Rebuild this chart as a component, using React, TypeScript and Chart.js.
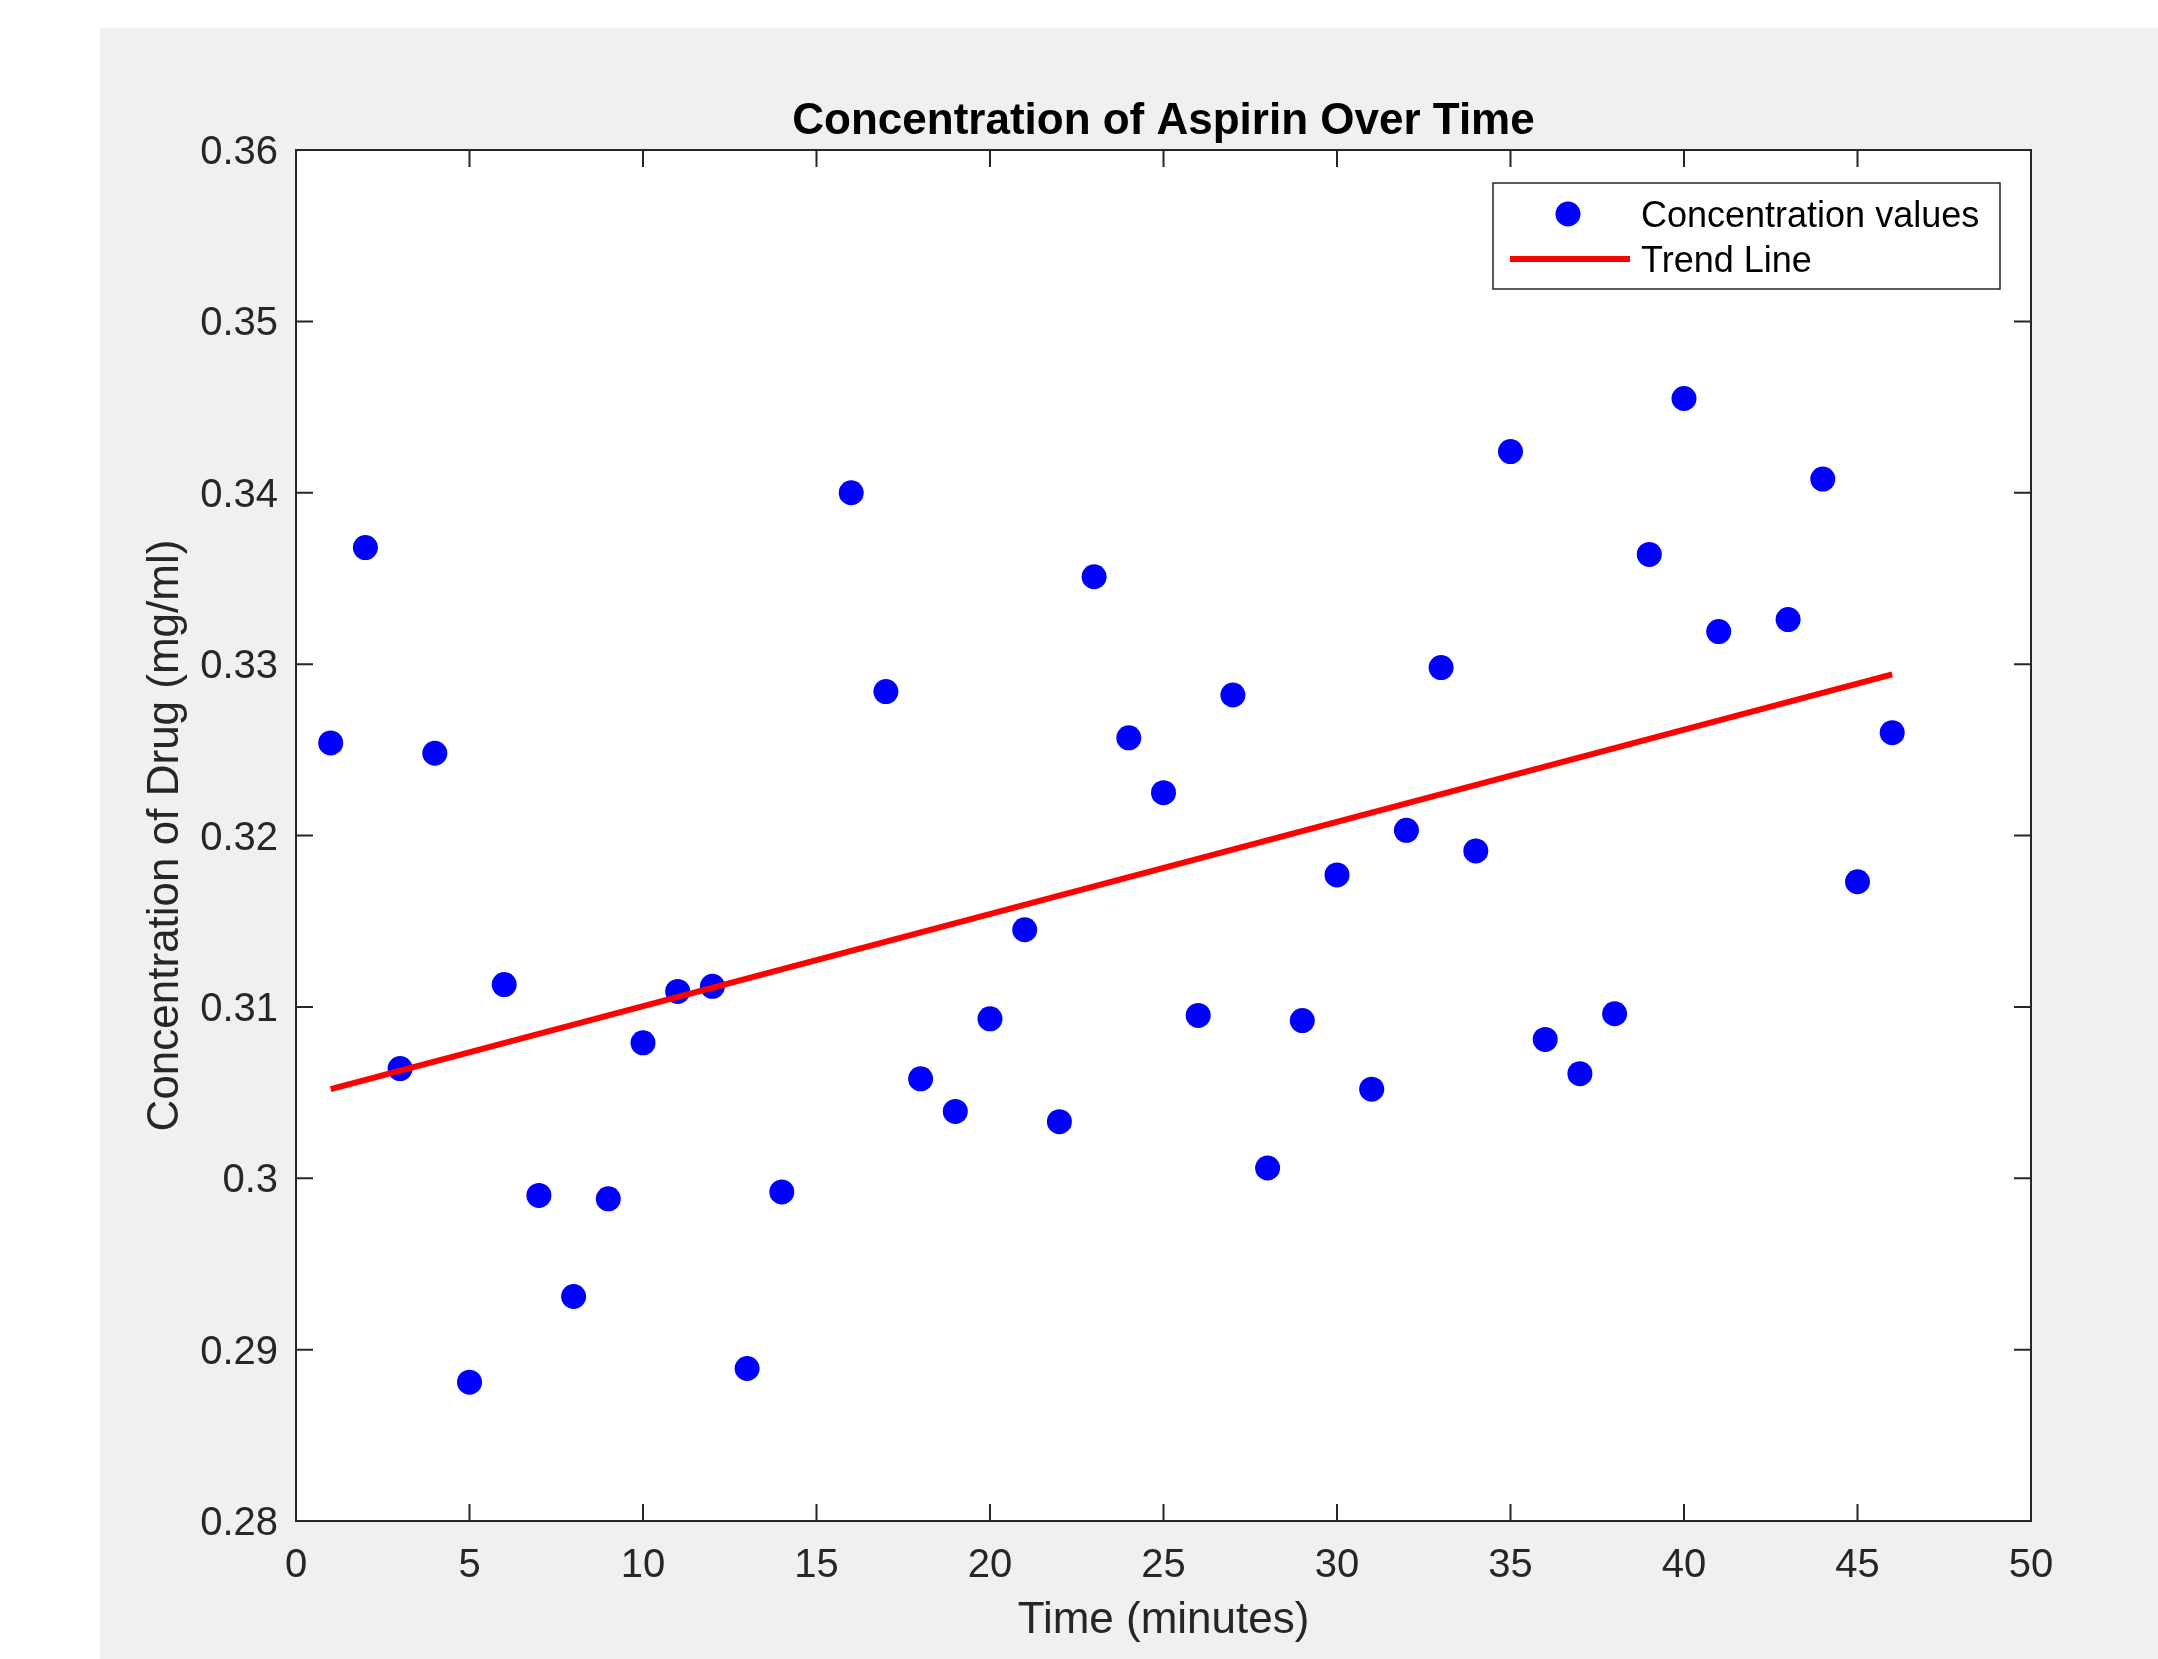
import React, { useEffect, useRef } from "react";
import { Chart, registerables } from "chart.js";

Chart.register(...registerables);

// ---- Data ----
const times = [
  1, 2, 3, 4, 5, 6, 7, 8, 9, 10, 11, 12, 13, 14, 16, 17, 18, 19, 20, 21, 22, 23,
  24, 25, 26, 27, 28, 29, 30, 31, 32, 33, 34, 35, 36, 37, 38, 39, 40, 41, 43, 44,
  45, 46,
];
const concentrations = [
  0.3254, 0.3368, 0.3064, 0.3248, 0.2881, 0.3113, 0.299, 0.2931, 0.2988, 0.3079,
  0.3109, 0.3112, 0.2889, 0.2992, 0.34, 0.3284, 0.3058, 0.3039, 0.3093, 0.3145,
  0.3033, 0.3351, 0.3257, 0.3225, 0.3095, 0.3282, 0.3006, 0.3092, 0.3177, 0.3052,
  0.3203, 0.3298, 0.3191, 0.3424, 0.3081, 0.3061, 0.3096, 0.3364, 0.3455, 0.3319,
  0.3326, 0.3408, 0.3173, 0.326,
];
const trendTimes = [1, 46];
const trendValues = [0.3052, 0.3294];

const xRange = [0, 50];
const xStep = 5;
const yRange = [0.28, 0.36];
const yStep = 0.01;

const titleText = "Concentration of Aspirin Over Time";
const xLabel = "Time (minutes)";
const yLabel = "Concentration of Drug (mg/ml)";
const seriesLabels = ["Concentration values", "Trend Line"];

// ---- Styles ----
const FONT = '"Liberation Sans", Arial, Helvetica, sans-serif';
const AXIS_COLOR = "#262626";
const BLUE = "#0000ff";
const RED = "#ff0000";

const matlabPlugin = {
  id: "matlabFrame",
  beforeDraw(chart: any) {
    const { ctx, width, height, chartArea: a } = chart;
    ctx.save();
    ctx.fillStyle = "#ffffff";
    ctx.fillRect(0, 0, width, height);
    ctx.fillStyle = "#f0f0f0";
    ctx.fillRect(100, 28, width - 100, height - 28);
    ctx.fillStyle = "#ffffff";
    ctx.fillRect(a.left, a.top, a.right - a.left, a.bottom - a.top);
    ctx.restore();
  },
  afterDraw(chart: any) {
    const { ctx, chartArea: a, scales } = chart;
    const xs = scales.x;
    const ys = scales.y;
    const TL = 17;
    ctx.save();
    ctx.strokeStyle = AXIS_COLOR;
    ctx.lineWidth = 2;
    ctx.beginPath();
    xs.ticks.forEach((t: any) => {
      const px = xs.getPixelForValue(t.value);
      ctx.moveTo(px, a.bottom);
      ctx.lineTo(px, a.bottom - TL);
      ctx.moveTo(px, a.top);
      ctx.lineTo(px, a.top + TL);
    });
    ys.ticks.forEach((t: any) => {
      const py = ys.getPixelForValue(t.value);
      ctx.moveTo(a.left, py);
      ctx.lineTo(a.left + TL, py);
      ctx.moveTo(a.right, py);
      ctx.lineTo(a.right - TL, py);
    });
    ctx.stroke();
    ctx.strokeRect(a.left, a.top, a.right - a.left, a.bottom - a.top);

    // Title
    ctx.fillStyle = "#000000";
    ctx.font = `bold 44px ${FONT}`;
    ctx.textAlign = "center";
    ctx.textBaseline = "alphabetic";
    ctx.fillText(titleText, (a.left + a.right) / 2, a.top - 16);

    // Legend
    const bw = 507;
    const bh = 106;
    const bx = a.right - 31 - bw;
    const by = a.top + 33;
    ctx.fillStyle = "#ffffff";
    ctx.fillRect(bx, by, bw, bh);
    ctx.lineWidth = 1.5;
    ctx.strokeStyle = AXIS_COLOR;
    ctx.strokeRect(bx, by, bw, bh);

    const ds = chart.data.datasets;
    const scatterDs = ds.find((d: any) => d.label === seriesLabels[0]);
    const lineDs = ds.find((d: any) => d.label === seriesLabels[1]);

    ctx.fillStyle = scatterDs.pointBackgroundColor;
    ctx.beginPath();
    ctx.arc(bx + 75, by + 31, scatterDs.pointRadius, 0, Math.PI * 2);
    ctx.fill();

    ctx.strokeStyle = lineDs.borderColor;
    ctx.lineWidth = lineDs.borderWidth;
    ctx.beginPath();
    ctx.moveTo(bx + 17, by + 76);
    ctx.lineTo(bx + 137, by + 76);
    ctx.stroke();

    ctx.fillStyle = "#000000";
    ctx.font = `36px ${FONT}`;
    ctx.textAlign = "left";
    ctx.textBaseline = "alphabetic";
    ctx.fillText(seriesLabels[0], bx + 148, by + 44);
    ctx.fillText(seriesLabels[1], bx + 148, by + 89);
    ctx.restore();
  },
};

export default function App() {
  const canvasRef = useRef<HTMLCanvasElement | null>(null);

  useEffect(() => {
    const canvas = canvasRef.current;
    if (!canvas) return;
    const scatterData = times.map((t, i) => ({ x: t, y: concentrations[i] }));
    const trendData = trendTimes.map((t, i) => ({ x: t, y: trendValues[i] }));

    const chart = new Chart(canvas, {
      type: "scatter",
      data: {
        datasets: [
          {
            label: seriesLabels[1],
            data: trendData,
            showLine: true,
            borderColor: RED,
            backgroundColor: RED,
            borderWidth: 6,
            pointRadius: 0,
            pointHoverRadius: 0,
            order: 0,
          } as any,
          {
            label: seriesLabels[0],
            data: scatterData,
            showLine: false,
            pointRadius: 12.5,
            pointHoverRadius: 12.5,
            pointBackgroundColor: BLUE,
            pointBorderColor: BLUE,
            pointBorderWidth: 0,
            backgroundColor: BLUE,
            borderColor: BLUE,
            order: 1,
          } as any,
        ],
      },
      options: {
        responsive: false,
        animation: false,
        devicePixelRatio: 1,
        events: [],
        layout: { padding: { left: 96, right: 127, top: 150, bottom: 8 } },
        plugins: {
          legend: { display: false },
          title: { display: false },
          tooltip: { enabled: false },
        },
        scales: {
          x: {
            type: "linear",
            position: "bottom",
            min: xRange[0],
            max: xRange[1],
            grid: { display: false, drawTicks: false },
            border: { display: false },
            ticks: {
              stepSize: xStep,
              padding: 21,
              color: AXIS_COLOR,
              font: { family: FONT, size: 40 },
              maxRotation: 0,
              autoSkip: false,
            },
            title: {
              display: true,
              text: xLabel,
              color: AXIS_COLOR,
              font: { family: FONT, size: 44 },
              padding: { top: 0, bottom: 4 },
            },
            afterFit: (s: any) => {
              s.height = 130;
            },
          },
          y: {
            type: "linear",
            position: "left",
            min: yRange[0],
            max: yRange[1],
            grid: { display: false, drawTicks: false },
            border: { display: false },
            ticks: {
              stepSize: yStep,
              padding: 18,
              labelOffset: 3,
              color: AXIS_COLOR,
              font: { family: FONT, size: 40 },
              autoSkip: false,
              callback: (v: any) => String(Number(Number(v).toFixed(2))),
            },
            title: {
              display: true,
              text: yLabel,
              color: AXIS_COLOR,
              font: { family: FONT, size: 44 },
              padding: { top: 43, bottom: 0 },
            },
            afterFit: (s: any) => {
              s.width = 200;
            },
          },
        },
      } as any,
      plugins: [matlabPlugin],
    });

    return () => {
      chart.destroy();
    };
  }, []);

  return (
    <div
      style={{
        position: "fixed",
        left: 0,
        top: 0,
        width: 2158,
        height: 1659,
        overflow: "hidden",
        background: "#ffffff",
      }}
    >
      <canvas
        ref={canvasRef}
        width={2158}
        height={1659}
        style={{ display: "block", width: 2158, height: 1659 }}
      />
    </div>
  );
}
